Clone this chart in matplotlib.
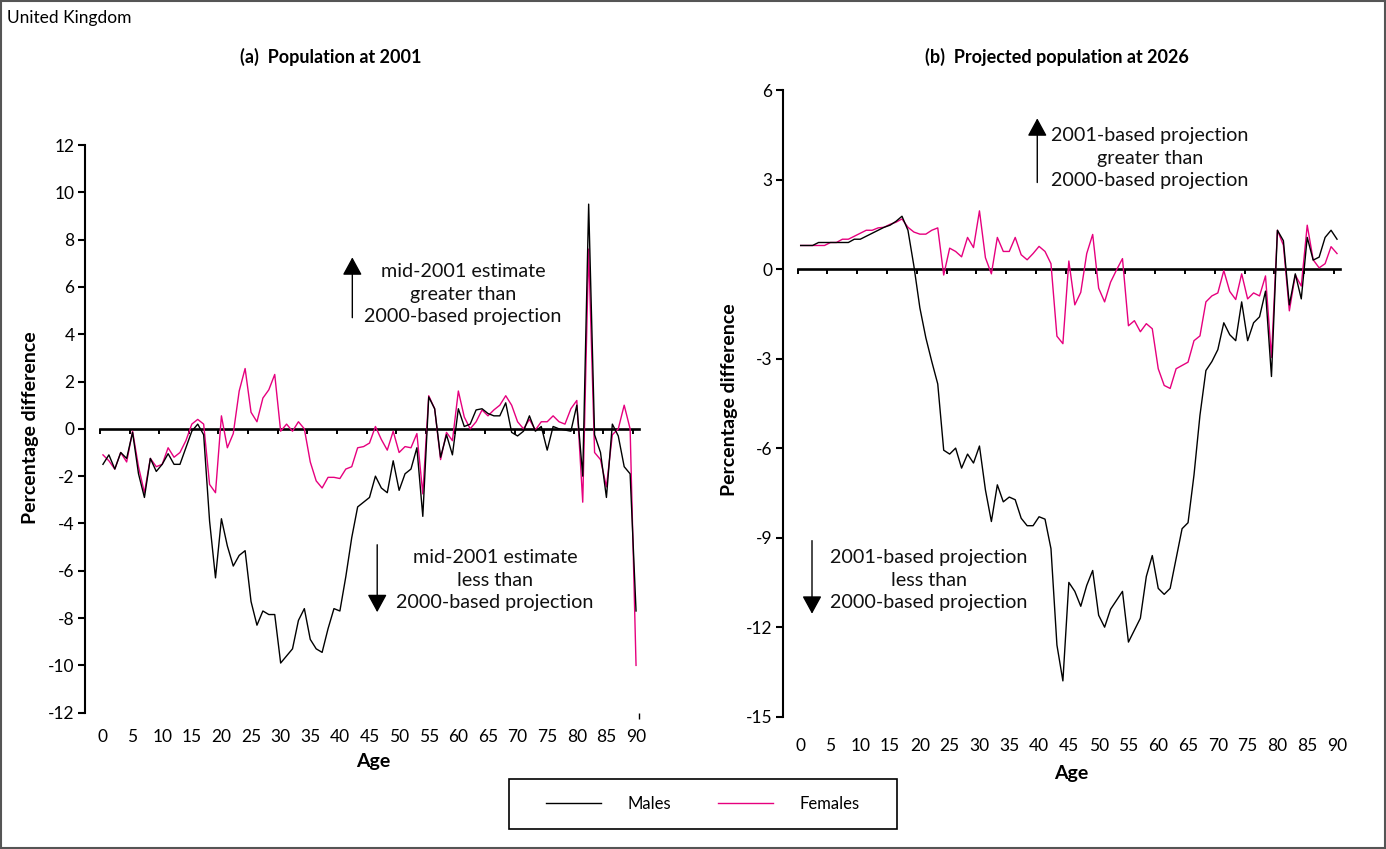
import numpy as np
import matplotlib
matplotlib.use("Agg")
import matplotlib.pyplot as plt
from matplotlib.patches import Rectangle
from matplotlib.patches import ArrowStyle

plt.rcParams['font.family'] = ['Lato', 'DejaVu Sans']

# ---------------- data ----------------
ages = list(range(0, 91))
tick_ages = list(range(0, 91, 5))

males_2001 = [-1.5, -1.1, -1.7, -1.0, -1.25, -0.15, -1.9, -2.9, -1.25, -1.8,
              -1.5, -1.05, -1.5, -1.5, -0.8, -0.1, 0.2, -0.25, -3.9, -6.3,
              -3.8, -4.95, -5.8, -5.35, -5.15, -7.3, -8.3, -7.7, -7.85, -7.85,
              -9.9, -9.6, -9.3, -8.1, -7.6, -8.9, -9.3, -9.45, -8.45, -7.6,
              -7.7, -6.25, -4.6, -3.3, -3.1, -2.9, -2.0, -2.5, -2.7, -1.35,
              -2.6, -1.9, -1.7, -0.8, -3.7, 1.35, 0.85, -1.2, -0.25, -1.1,
              0.85, 0.1, 0.2, 0.8, 0.85, 0.65, 0.55, 0.55, 1.1, -0.15,
              -0.3, -0.1, 0.55, -0.1, 0.1, -0.9, 0.1, 0.0, -0.05, -0.1,
              1.0, -2.0, 9.5, -0.25, -1.0, -2.9, 0.2, -0.3, -1.6, -1.9,
              -7.7]
females_2001 = [-1.1, -1.35, -1.7, -1.0, -1.4, -0.1, -1.6, -2.7, -1.25, -1.6,
                -1.5, -0.8, -1.2, -1.0, -0.5, 0.2, 0.4, 0.2, -2.35, -2.7,
                0.55, -0.8, -0.2, 1.6, 2.55, 0.7, 0.3, 1.3, 1.65, 2.3,
                -0.1, 0.2, -0.1, 0.3, 0.0, -1.4, -2.2, -2.5, -2.05, -2.05,
                -2.1, -1.7, -1.6, -0.8, -0.75, -0.6, 0.1, -0.45, -0.9, -0.1,
                -1.0, -0.75, -0.8, -0.2, -2.75, 1.4, 0.85, -1.3, -0.15, -0.5,
                1.6, 0.5, 0.0, 0.3, 0.8, 0.55, 0.8, 1.0, 1.4, 1.0,
                0.3, 0.0, 0.4, -0.05, 0.3, 0.3, 0.55, 0.3, 0.2, 0.85,
                1.2, -3.1, 7.6, -1.0, -1.3, -2.45, -0.25, 0.0, 1.0, 0.0,
                -10.0]

males_2026 = [0.79, 0.79, 0.79, 0.89, 0.89, 0.89, 0.89, 0.89, 0.89, 1.0,
              1.0, 1.1, 1.2, 1.3, 1.4, 1.47, 1.6, 1.77, 1.3, 0.1,
              -1.3, -2.3, -3.1, -3.85, -6.07, -6.2, -6.0, -6.67, -6.2, -6.5,
              -5.93, -7.4, -8.46, -7.23, -7.8, -7.64, -7.73, -8.35, -8.6, -8.6,
              -8.3, -8.38, -9.37, -12.6, -13.8, -10.5, -10.8, -11.3, -10.6, -10.1,
              -11.6, -12.0, -11.4, -11.1, -10.8, -12.5, -12.1, -11.7, -10.3, -9.6,
              -10.7, -10.9, -10.7, -9.7, -8.7, -8.5, -6.9, -4.9, -3.4, -3.1,
              -2.7, -1.8, -2.2, -2.4, -1.1, -2.4, -1.8, -1.6, -0.74, -3.6,
              1.3, 0.95, -1.2, -0.16, -1.0, 1.06, 0.3, 0.4, 1.06, 1.3,
              1.0]
females_2026 = [0.79, 0.79, 0.79, 0.79, 0.79, 0.89, 0.89, 1.0, 1.0, 1.1,
                1.2, 1.3, 1.3, 1.38, 1.4, 1.5, 1.57, 1.68, 1.4, 1.24,
                1.17, 1.17, 1.3, 1.38, -0.2, 0.7, 0.59, 0.41, 1.06, 0.72,
                1.95, 0.38, -0.16, 1.06, 0.59, 0.59, 1.06, 0.48, 0.31, 0.52,
                0.76, 0.59, 0.18, -2.25, -2.5, 0.27, -1.2, -0.78, 0.52, 1.16,
                -0.64, -1.1, -0.44, -0.03, 0.35, -1.9, -1.73, -2.1, -1.83, -2.0,
                -3.34, -3.9, -4.0, -3.34, -3.23, -3.12, -2.4, -2.24, -1.1, -0.9,
                -0.8, -0.05, -0.75, -1.02, -0.16, -1.0, -0.8, -0.9, -0.23, -2.96,
                1.3, 0.8, -1.4, -0.2, -0.57, 1.47, 0.31, 0.04, 0.18, 0.75,
                0.52]

yticks_a = list(range(-12, 13, 2))
yticks_b = list(range(-15, 7, 3))

MALE_C = '#000000'
FEMALE_C = '#E6007E'

W, H = 1386, 849
fig = plt.figure(figsize=(W / 100, H / 100), dpi=100)


def fx(px):
    return px / W


def fy(py):
    return 1 - py / H


def setup(ax, yticks, ylim, label_pad, end_tick=False):
    x = np.array(ages) + 0.5
    ax.set_xlim(0, 91)
    ax.set_ylim(*ylim)
    for s in ('top', 'right'):
        ax.spines[s].set_visible(False)
    ax.spines['left'].set_position(('outward', 10.8))
    ax.spines['left'].set_linewidth(1.5)
    ax.spines['bottom'].set_position(('data', 0))
    ax.spines['bottom'].set_linewidth(1.9)
    ax.spines['bottom'].set_zorder(1)
    ax.set_yticks(yticks)
    ax.set_yticklabels([str(v) for v in yticks])
    ax.tick_params(axis='y', direction='out', length=5, width=1.5,
                   labelsize=12.5, pad=2.5)
    ax.set_xticks(tick_ages)
    ax.tick_params(axis='x', direction='out', length=3.8, width=1.4,
                   labelbottom=False)
    sec = ax.secondary_xaxis('bottom')
    sec.spines['bottom'].set_visible(False)
    sec.set_xticks([a + 0.5 for a in tick_ages])
    sec.set_xticklabels([str(a) for a in tick_ages])
    sec.tick_params(axis='x', length=0, labelsize=12.5, pad=label_pad)
    if end_tick:
        sec.set_xticks([91], minor=True)
        sec.tick_params(axis='x', which='minor', length=4.5, width=1.0,
                        direction='out')
    ax.patch.set_visible(False)
    return x


# ---------------- panel (a) ----------------
axA = fig.add_axes([fx(100), fy(712.7), fx(539), 567.7 / H])
xa = setup(axA, yticks_a, (-12, 12), 12, end_tick=True)
axA.plot(xa, males_2001, color=MALE_C, lw=1.0, zorder=3)
axA.plot(xa, females_2001, color=FEMALE_C, lw=1.0, zorder=2)

# ---------------- panel (b) ----------------
axB = fig.add_axes([fx(797.7), fy(716.7), fx(542.3), 626.7 / H])
xb = setup(axB, yticks_b, (-15, 6), 15)
axB.plot(xb, males_2026, color=MALE_C, lw=1.0, zorder=3)
axB.plot(xb, females_2026, color=FEMALE_C, lw=1.0, zorder=2)

# ---------------- annotations ----------------
astyle = ArrowStyle('-|>', head_length=0.55, head_width=0.3)
aprops = dict(arrowstyle=astyle, mutation_scale=20, lw=1.0, color='black',
              shrinkA=0, shrinkB=0)
txt_kw = dict(ha='center', va='center', fontsize=14.2, linespacing=1.38,
              color='#111111')

axA.annotate('', xy=(42.6, 7.25), xytext=(42.6, 4.7), arrowprops=aprops)
axA.text(61.3, 5.69, 'mid-2001 estimate\ngreater than\n2000-based projection',
         **txt_kw)
axA.annotate('', xy=(46.8, -7.75), xytext=(46.8, -4.9), arrowprops=aprops)
axA.text(66.7, -6.4, 'mid-2001 estimate\nless than\n2000-based projection',
         **txt_kw)

axB.annotate('', xy=(40.2, 5.05), xytext=(40.2, 2.9), arrowprops=aprops)
axB.text(59.1, 3.72, '2001-based projection\ngreater than\n2000-based projection',
         **txt_kw)
axB.annotate('', xy=(2.4, -11.55), xytext=(2.4, -9.1), arrowprops=aprops)
axB.text(22.0, -10.42, '2001-based projection\nless than\n2000-based projection',
         **txt_kw)

# ---------------- titles and labels ----------------
fig.text(fx(7), fy(18), 'United Kingdom', fontsize=12.5, ha='left', va='center')
fig.text(fx(331), fy(57), '(a)  Population at 2001', fontsize=13,
         fontweight='bold', ha='center', va='center')
fig.text(fx(1057), fy(57), '(b)  Projected population at 2026', fontsize=13,
         fontweight='bold', ha='center', va='center')
fig.text(fx(31), fy(428), 'Percentage difference', rotation=90, fontsize=14,
         fontweight='bold', ha='center', va='center')
fig.text(fx(729), fy(400), 'Percentage difference', rotation=90, fontsize=14,
         fontweight='bold', ha='center', va='center')
fig.text(fx(373), fy(762), 'Age', fontsize=14, fontweight='bold',
         ha='center', va='center')
fig.text(fx(1071), fy(773), 'Age', fontsize=14, fontweight='bold',
         ha='center', va='center')

# ---------------- legend ----------------
h1, = axA.plot([], [], color=MALE_C, lw=1.0)
h2, = axA.plot([], [], color=FEMALE_C, lw=1.0)
fig.legend([h1, h2], ['Males', 'Females'], loc='center',
           bbox_to_anchor=(fx(703), fy(804)), ncol=2, frameon=False,
           fontsize=12, handlelength=3.3, handletextpad=1.6,
           columnspacing=2.8)
fig.patches.append(Rectangle((fx(509), fy(829)), fx(388), 50 / H,
                             transform=fig.transFigure, fill=False,
                             edgecolor='black', lw=1.2))

# outer frame
fig.patches.append(Rectangle((0.001, 0.001), 0.998, 0.998,
                             transform=fig.transFigure, fill=False,
                             edgecolor='#555555', lw=1.5))

fig.savefig('out.png', dpi=100)
